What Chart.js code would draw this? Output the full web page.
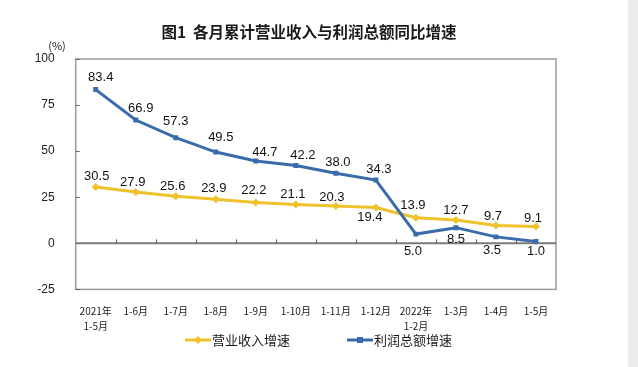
<!DOCTYPE html>
<html>
<head>
<meta charset="utf-8">
<script src="https://cdn.jsdelivr.net/npm/chart.js@4"></script>
<style>
  html, body { margin: 0; padding: 0; background: #fff; }
  #wrap { position: relative; width: 638px; height: 367px; }
  #edge { position: absolute; right: 0; top: 0; width: 10px; height: 367px; background: #ececec; }
</style>
</head>
<body>
<div id="wrap">
  <canvas id="growthChart" width="638" height="367"></canvas>
  <div id="edge"></div>
</div>
<script>
const chartTitle = '图1  各月累计营业收入与利润总额同比增速';
const categories = [['2021年', '1-5月'], '1-6月', '1-7月', '1-8月', '1-9月', '1-10月', '1-11月', '1-12月', ['2022年', '1-2月'], '1-3月', '1-4月', '1-5月'];
const revenueGrowth = [30.5, 27.9, 25.6, 23.9, 22.2, 21.1, 20.3, 19.4, 13.9, 12.7, 9.7, 9.1];
const profitGrowth = [83.4, 66.9, 57.3, 49.5, 44.7, 42.2, 38.0, 34.3, 5.0, 8.5, 3.5, 1.0];
const yTicks = [-25, 0, 25, 50, 75, 100];
const seriesNames = ['营业收入增速', '利润总额增速'];

// label nudges in px, relative to each point (style only)
const revenueLabelShift = [[1, -11], [-3, -9], [-3, -10], [-2, -11], [-2, -12], [-3, -10], [-4, -8], [-6, 10], [-3, -12], [0, -9], [-3, -9], [-3, -8]];
const profitLabelShift = [[5, -12], [5, -12], [0, -16], [5, -15], [9, -9], [7, -10], [2, -11], [3, -11], [-3, 17], [0, 12], [-4, 14], [0, 10]];

const yellow = '#EFC12B';
const blue = '#3A6CAC';
const labelFont = '13px "Liberation Sans", Arial, sans-serif';
const cjkFont = '"Noto Sans CJK SC", sans-serif';

const framePlugin = {
    id: 'frame',
    beforeDatasetsDraw(chart) {
        const { ctx, chartArea: a, scales } = chart;
        const zeroY = scales.y.getPixelForValue(0);
        ctx.save();
        // plot border
        ctx.strokeStyle = '#9a9a9a';
        ctx.lineWidth = 1.5;
        ctx.strokeRect(a.left, a.top, a.right - a.left, a.bottom - a.top);
        // y tick marks, pointing inward
        ctx.lineWidth = 1;
        ctx.strokeStyle = '#666';
        yTicks.forEach(v => {
            const y = Math.round(scales.y.getPixelForValue(v)) + 0.5;
            ctx.beginPath();
            ctx.moveTo(a.left, y);
            ctx.lineTo(a.left + 4, y);
            ctx.stroke();
        });
        // zero line
        ctx.strokeStyle = '#7a7a7a';
        ctx.lineWidth = 2;
        ctx.beginPath();
        ctx.moveTo(a.left, zeroY);
        ctx.lineTo(a.right, zeroY);
        ctx.stroke();
        // category boundary ticks on the zero line
        ctx.lineWidth = 1;
        ctx.strokeStyle = '#555';
        const half = (scales.x.getPixelForValue(1) - scales.x.getPixelForValue(0)) / 2;
        for (let i = 1; i < categories.length; i++) {
            const x = Math.round(scales.x.getPixelForValue(i) - half) + 0.5;
            ctx.beginPath();
            ctx.moveTo(x, zeroY);
            ctx.lineTo(x, zeroY - 4);
            ctx.stroke();
        }
        ctx.restore();
    },
    afterDraw(chart) {
        const { ctx } = chart;
        ctx.save();
        // title
        ctx.fillStyle = '#1a1a1a';
        ctx.font = 'bold 15.5px ' + cjkFont;
        ctx.textAlign = 'center';
        ctx.textBaseline = 'middle';
        ctx.fillText(chartTitle, 309, 32);
        // unit
        ctx.font = '11px ' + cjkFont;
        ctx.fillText('(%)', 57, 46);
        // legend
        const items = [
            { name: seriesNames[0], color: yellow, x0: 185, style: 'diamond' },
            { name: seriesNames[1], color: blue, x0: 347, style: 'square' }
        ];
        const ly = 340;
        items.forEach(it => {
            ctx.strokeStyle = it.color;
            ctx.fillStyle = it.color;
            ctx.lineWidth = 3;
            ctx.beginPath();
            ctx.moveTo(it.x0, ly);
            ctx.lineTo(it.x0 + 26, ly);
            ctx.stroke();
            const cx = it.x0 + 13;
            ctx.beginPath();
            if (it.style === 'diamond') {
                ctx.moveTo(cx, ly - 4);
                ctx.lineTo(cx + 4, ly);
                ctx.lineTo(cx, ly + 4);
                ctx.lineTo(cx - 4, ly);
                ctx.closePath();
                ctx.fill();
            } else {
                ctx.fillRect(cx - 3, ly - 3, 6, 6);
            }
            ctx.fillStyle = '#1a1a1a';
            ctx.font = '13px ' + cjkFont;
            ctx.textAlign = 'left';
            ctx.textBaseline = 'middle';
            ctx.fillText(it.name, it.x0 + 27, ly);
        });
        ctx.restore();
    },
    afterDatasetsDraw(chart) {
        const { ctx } = chart;
        const shifts = [revenueLabelShift, profitLabelShift];
        ctx.save();
        ctx.font = labelFont;
        ctx.fillStyle = '#111';
        ctx.textAlign = 'center';
        ctx.textBaseline = 'middle';
        chart.data.datasets.forEach((ds, di) => {
            const meta = chart.getDatasetMeta(di);
            meta.data.forEach((pt, i) => {
                const s = shifts[di][i];
                ctx.fillText(ds.data[i].toFixed(1), pt.x + s[0], pt.y + s[1]);
            });
        });
        ctx.restore();
    }
};

const ctx = document.getElementById('growthChart').getContext('2d');
new Chart(ctx, {
    type: 'line',
    data: {
        labels: categories,
        datasets: [{
            label: seriesNames[0],
            data: revenueGrowth,
            borderColor: yellow,
            backgroundColor: yellow,
            borderWidth: 3,
            pointStyle: 'rectRot',
            pointRadius: 4,
            pointBorderWidth: 0,
            order: 1,
            fill: false
        }, {
            label: seriesNames[1],
            data: profitGrowth,
            borderColor: blue,
            backgroundColor: blue,
            borderWidth: 3,
            pointStyle: 'rect',
            pointRadius: 3.5,
            pointBorderWidth: 0,
            order: 0,
            fill: false
        }]
    },
    options: {
        responsive: false,
        animation: false,
        layout: { padding: { left: 0, right: 82, top: 59, bottom: 0 } },
        plugins: {
            legend: { display: false },
            title: { display: false },
            tooltip: { enabled: false }
        },
        scales: {
            x: {
                offset: true,
                grid: { display: false },
                border: { display: false },
                ticks: {
                    color: '#222',
                    font: { family: cjkFont, size: 10, lineHeight: 1.5 },
                    padding: 6,
                    maxRotation: 0,
                    autoSkip: false
                },
                afterFit(scale) { scale.height = 77.6; }
            },
            y: {
                min: -25,
                max: 100,
                grid: { display: false },
                border: { display: false },
                afterBuildTicks(scale) { scale.ticks = yTicks.map(v => ({ value: v })); },
                ticks: {
                    color: '#222',
                    font: { family: '"Liberation Sans", Arial, sans-serif', size: 12 },
                    padding: 13
                },
                afterFit(scale) { scale.width = 75.7; }
            }
        }
    },
    plugins: [framePlugin]
});
</script>
</body>
</html>
